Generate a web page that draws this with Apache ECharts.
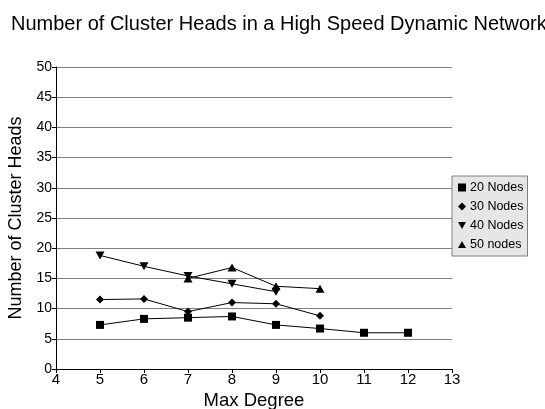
<!DOCTYPE html>
<html>
<head>
<meta charset="utf-8">
<script src="https://cdn.jsdelivr.net/npm/echarts@6/dist/echarts.min.js"></script>
<style>
  html, body { margin: 0; padding: 0; background: #fff; }
  #chart { width: 545px; height: 409px; }
</style>
</head>
<body>
<div id="chart"></div>
<script>
// Max degree on the x axis, cluster-head counts per network size
const degrees20 = [5, 6, 7, 8, 9, 10, 11, 12];
const nodes20 = [7.3, 8.3, 8.5, 8.7, 7.3, 6.7, 6.0, 6.0];
const degrees30 = [5, 6, 7, 8, 9, 10];
const nodes30 = [11.5, 11.6, 9.5, 11.0, 10.8, 8.8];
const degrees40 = [5, 6, 7, 8, 9];
const nodes40 = [18.8, 17.0, 15.4, 14.1, 12.8];
const degrees50 = [7, 8, 9, 10];
const nodes50 = [15.0, 16.8, 13.7, 13.3];
const seriesNames = ['20 Nodes', '30 Nodes', '40 Nodes', '50 nodes'];

const FONT = 'Liberation Sans, Arial, sans-serif';
const downTriangle = 'path://M0,0 L10,0 L5,9 Z';
const upTriangle = 'path://M5,0 L10,9 L0,9 Z';
const symbols = ['rect', 'diamond', downTriangle, upTriangle];

function pairs(xs, ys) { return xs.map((x, i) => [x, ys[i]]); }

function lineSeries(name, data, symbol, size) {
  return {
    name: name,
    type: 'line',
    data: data,
    symbol: symbol,
    symbolSize: size,
    showAllSymbol: true,
    lineStyle: { color: '#000', width: 1 },
    itemStyle: { color: '#000' },
    emphasis: { disabled: true },
    animation: false
  };
}

const chart = echarts.init(document.getElementById('chart'), null, { renderer: 'canvas' });
chart.setOption({
  backgroundColor: '#fff',
  animation: false,
  title: {
    text: 'Number of Cluster Heads in a High Speed Dynamic Network',
    left: 6, top: 9,
    textStyle: { fontFamily: FONT, fontSize: 20, fontWeight: 'normal', color: '#000' }
  },
  grid: { left: 56, right: 93, top: 67, bottom: 40, containLabel: false, outerBoundsMode: 'none' },
  legend: {
    orient: 'vertical',
    left: 452, top: 176,
    padding: [5, 4, 5, 6],
    itemGap: 6,
    itemWidth: 8, itemHeight: 8,
    backgroundColor: '#e6e6e6',
    borderColor: '#808080',
    borderWidth: 1,
    textStyle: { fontFamily: FONT, fontSize: 12.5, color: '#000', padding: [0, 0, 0, -1] },
    data: seriesNames.map((n, i) => ({ name: n, icon: symbols[i] })),
    selectedMode: false
  },
  xAxis: {
    type: 'value',
    min: 4, max: 13, interval: 1,
    name: 'Max Degree',
    nameLocation: 'middle',
    nameGap: 20,
    nameTextStyle: { fontFamily: FONT, fontSize: 18.5, color: '#000' },
    axisLine: { show: true, onZero: false, lineStyle: { color: '#000', width: 1 } },
    axisTick: { show: true, length: 4, lineStyle: { color: '#000' } },
    axisLabel: { fontFamily: FONT, fontSize: 15, color: '#000', margin: 3 },
    splitLine: { show: false }
  },
  yAxis: {
    type: 'value',
    min: 0, max: 50, interval: 5,
    name: 'Number of Cluster Heads',
    nameLocation: 'middle',
    nameGap: 27,
    nameTextStyle: { fontFamily: FONT, fontSize: 18, color: '#000' },
    axisLine: { show: true, lineStyle: { color: '#000', width: 1 } },
    axisTick: { show: true, length: 4, lineStyle: { color: '#000' } },
    axisLabel: { fontFamily: FONT, fontSize: 14, color: '#000', margin: 4 },
    splitLine: { show: true, lineStyle: { color: '#808080', width: 1 } }
  },
  series: [
    lineSeries(seriesNames[0], pairs(degrees20, nodes20), symbols[0], 8),
    lineSeries(seriesNames[1], pairs(degrees30, nodes30), symbols[1], 8),
    lineSeries(seriesNames[2], pairs(degrees40, nodes40), symbols[2], [9, 8]),
    lineSeries(seriesNames[3], pairs(degrees50, nodes50), symbols[3], [9, 8])
  ]
});
</script>
</body>
</html>
